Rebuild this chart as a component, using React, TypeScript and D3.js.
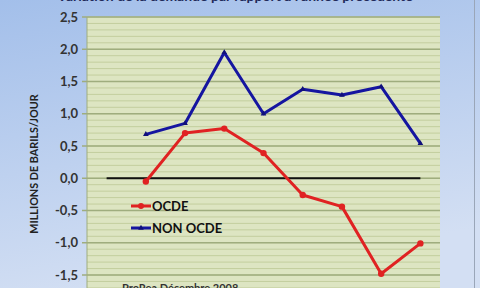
import React from "react";
import * as d3 from "d3";

const categories = ["", "2001", "2002", "2003", "2004", "2005", "2006", "2007", "2008"];
const ocde: (number | null)[] = [null, -0.05, 0.7, 0.77, 0.39, -0.26, -0.44, -1.48, -1.01];
const nonOcde: (number | null)[] = [null, 0.68, 0.85, 1.95, 1.0, 1.38, 1.29, 1.42, 0.54];
const zeroLine: number[] = [0, 0, 0, 0, 0, 0, 0, 0, 0];
const yTicks = [2.5, 2.0, 1.5, 1.0, 0.5, 0.0, -0.5, -1.0, -1.5, -2.0];

const W = 480, H = 288;
const plot = { left: 87, right: 440, top: 17 };

export default function App() {
  const y = d3.scaleLinear().domain([-1.5, 2.5]).range([275, 17]);
  const x = d3.scalePoint<string>().domain(categories).range([plot.left, plot.right]).padding(0.5);
  const minor = d3.range(-20, 26).map((d) => d / 10);
  const line = d3
    .line<number | null>()
    .defined((d) => d !== null)
    .x((_, i) => x(categories[i]) as number)
    .y((d) => y(d as number));
  const fmt = (v: number) => v.toFixed(1).replace(".", ",");
  const plotBottom = y(-2.0);
  const tri = d3.symbol().type(d3.symbolTriangle).size(14)() as string;
  const font = "Lato, 'Open Sans', sans-serif";

  return (
    <svg width={W} height={H} style={{ position: "absolute", left: 0, top: 0 }} fontFamily={font}>
      <defs>
        <linearGradient id="bg" x1="0" y1="0" x2="0.3" y2="1">
          <stop offset="0" stopColor="#a3bfea" />
          <stop offset="1" stopColor="#d3dff3" />
        </linearGradient>
      </defs>
      <rect x={0} y={0} width={W} height={H} fill="url(#bg)" />
      <line x1={474.5} x2={474.5} y1={0} y2={H} stroke="#9aa6b8" strokeWidth={1} />
      <text x={235} y={0.5} textAnchor="middle" fontSize={14} fontWeight="bold" fill="#1f2a5a">
        Variation de la demande par rapport à l'année précédente
      </text>
      <rect x={plot.left} y={plot.top} width={plot.right - plot.left} height={plotBottom - plot.top} fill="#dde5c2" />
      {minor.map((v) => (
        <line key={"m" + v} x1={plot.left} x2={plot.right} y1={y(v)} y2={y(v)} stroke="#c3ce9e" strokeWidth={1} />
      ))}
      {yTicks.map((v) => (
        <g key={"t" + v}>
          <line x1={plot.left - 5} x2={plot.right} y1={y(v)} y2={y(v)} stroke="#9fad7e" strokeWidth={1.5} />
          <text x={78} y={y(v)} dy="0.35em" textAnchor="end" fontSize={13} fontWeight="bold" fill="#333">
            {fmt(v)}
          </text>
        </g>
      ))}
      <line x1={plot.left} x2={plot.left} y1={plot.top} y2={plotBottom} stroke="#9fad7e" strokeWidth={1} />
      <text
        transform={`translate(38,164) rotate(-90)`}
        textAnchor="middle"
        fontSize={10.8}
        fontWeight="bold"
        fill="#222"
      >
        MILLIONS DE BARILS/JOUR
      </text>
      <path d={line(zeroLine) as string} fill="none" stroke="#111" strokeWidth={2} />
      <path d={line(nonOcde) as string} fill="none" stroke="#1515a0" strokeWidth={3} strokeLinejoin="round" />
      {nonOcde.map((d, i) =>
        d === null ? null : (
          <path key={"n" + i} d={tri} transform={`translate(${x(categories[i])},${y(d)})`} fill="#10107a" />
        )
      )}
      <path d={line(ocde) as string} fill="none" stroke="#e02222" strokeWidth={3} strokeLinejoin="round" />
      {ocde.map((d, i) =>
        d === null ? null : (
          <circle key={"o" + i} cx={x(categories[i])} cy={y(d)} r={3.2} fill="#e02222" />
        )
      )}
      <g>
        <line x1={131} x2={151} y1={206} y2={206} stroke="#e02222" strokeWidth={3} />
        <circle cx={141} cy={206} r={3} fill="#e02222" />
        <text x={152} y={206} dy="0.36em" fontSize={13} fontWeight="bold" fill="#111">OCDE</text>
        <line x1={131} x2={151} y1={228} y2={228} stroke="#1515a0" strokeWidth={3} />
        <path d={tri} transform="translate(141,228)" fill="#10107a" />
        <text x={152} y={228} dy="0.36em" fontSize={13} fontWeight="bold" fill="#111">NON OCDE</text>
      </g>
      <text x={122} y={292} fontSize={11} fontWeight="bold" fill="#333">ProRea Décembre 2008</text>
    </svg>
  );
}
